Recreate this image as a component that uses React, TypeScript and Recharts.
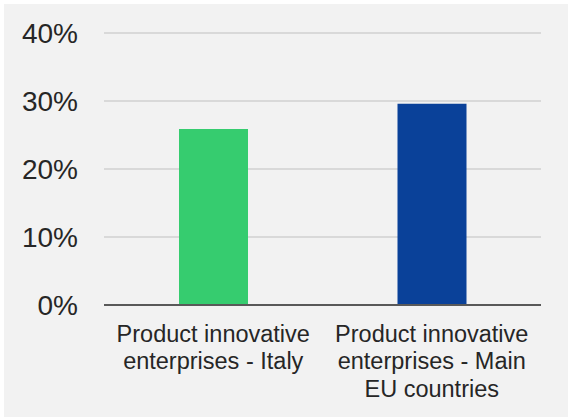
import React from 'react'
import { BarChart, Bar, XAxis, YAxis, CartesianGrid, Cell } from 'recharts'

const CATEGORIES = [
  'Product innovative\nenterprises - Italy',
  'Product innovative\nenterprises - Main\nEU countries',
]
const SHARES = [25.9, 29.6]
const BAR_COLORS = ['#36cc6f', '#0a4199']
const Y_TICKS = [0, 10, 20, 30, 40]

const data = CATEGORIES.map((name, i) => ({ name, value: SHARES[i] }))

const FONT = '"Liberation Sans", Arial, sans-serif'

const CategoryTick = ({ x, y, payload }: { x?: number; y?: number; payload?: { value: string } }) => {
  const lines = (payload?.value ?? '').split('\n')
  return (
    <text x={x} y={y} textAnchor="middle" fill="#262626" fontSize={23.5} fontFamily={FONT}>
      {lines.map((line, i) => (
        <tspan key={i} x={x} dy={i === 0 ? 36.5 : 27.5}>{line}</tspan>
      ))}
    </text>
  )
}

export default function App() {
  return (
    <div style={{ position: 'absolute', left: 4, top: 4, width: 564, height: 413, background: '#f2f2f2' }}>
      <BarChart
        width={564}
        height={413}
        data={data}
        margin={{ top: 29, right: 27, bottom: 0, left: 0 }}
      >
        <CartesianGrid vertical={false} stroke="#d9d9d9" strokeWidth={2} />
        <XAxis
          dataKey="name"
          height={112}
          tickLine={false}
          tickSize={0}
          tickMargin={0}
          axisLine={{ stroke: '#595959', strokeWidth: 2 }}
          tick={<CategoryTick />}
          interval={0}
        />
        <YAxis
          width={100}
          domain={[0, 40]}
          ticks={Y_TICKS}
          axisLine={false}
          tickLine={false}
          tickSize={0}
          tickMargin={26}
          tickFormatter={(v: number) => `${v}%`}
          tick={{ fontSize: 28, fill: '#262626', fontFamily: FONT }}
        />
        <Bar dataKey="value" barSize={69} isAnimationActive={false}>
          {data.map((_, i) => (
            <Cell key={i} fill={BAR_COLORS[i]} />
          ))}
        </Bar>
      </BarChart>
    </div>
  )
}
